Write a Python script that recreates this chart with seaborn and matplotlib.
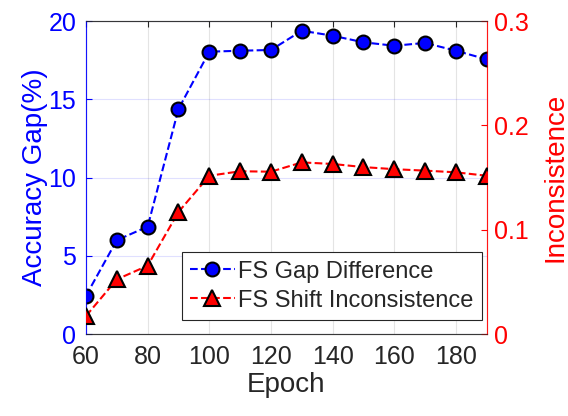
import matplotlib
matplotlib.use("Agg")
import matplotlib.pyplot as plt
import seaborn as sns
import pandas as pd

epochs = [60, 70, 80, 90, 100, 110, 120, 130, 140, 150, 160, 170, 180, 190]
gap_diff = [2.45, 6.0, 6.86, 14.38, 18.04, 18.1, 18.15, 19.38, 19.06, 18.64, 18.42, 18.6, 18.1, 17.55]
shift_incons = [0.0173, 0.0524, 0.0655, 0.117, 0.1517, 0.156, 0.1556, 0.1645, 0.163, 0.160, 0.158, 0.1566, 0.155, 0.1517]
x_ticks = [60, 80, 100, 120, 140, 160, 180]
left_ticks = [0, 5, 10, 15, 20]
right_ticks = [0, 0.1, 0.2, 0.3]
right_ticklabels = ["0", "0.1", "0.2", "0.3"]

sns.set_style("white")
plt.rcParams['font.family'] = ['Liberation Sans', 'DejaVu Sans']

df = pd.DataFrame({"Epoch": epochs, "gap": gap_diff, "inc": shift_incons})

fig = plt.figure(figsize=(5.68, 4.16), dpi=100)
ax = fig.add_axes([0.1514, 0.197, 0.7056, 0.7525])
ax2 = ax.twinx()

sns.lineplot(data=df, x="Epoch", y="gap", ax=ax, color=(0, 0, 1), linestyle="--",
             linewidth=1.5, marker="o", markersize=10, markerfacecolor=(0, 0, 1),
             markeredgecolor="black", markeredgewidth=1.5, label="FS Gap Difference",
             legend=False, zorder=3)
sns.lineplot(data=df, x="Epoch", y="inc", ax=ax2, color=(1, 0, 0), linestyle="--",
             linewidth=1.5, marker="^", markersize=11, markerfacecolor=(1, 0, 0),
             markeredgecolor="black", markeredgewidth=1.5, label="FS Shift Inconsistence",
             legend=False, zorder=3)

ax.set_xlim(60, 190)
ax.set_ylim(0, 20)
ax2.set_ylim(0, 0.3)
ax.set_xticks(x_ticks)
ax.set_yticks(left_ticks)
ax2.set_yticks(right_ticks)
ax2.set_yticklabels(right_ticklabels)

ax.xaxis.grid(True, color=(0.15, 0.15, 0.15), alpha=0.12, linewidth=0.8)
ax.yaxis.grid(True, color=(0, 0, 1), alpha=0.12, linewidth=0.8)
ax.set_axisbelow(True)

ax.tick_params(axis='x', colors=(0.15, 0.15, 0.15), labelsize=18, direction='in', length=4, top=True, pad=8)
ax.tick_params(axis='y', colors=(0, 0, 1), labelsize=18, direction='in', length=4, pad=7)
ax2.tick_params(axis='y', colors=(1, 0, 0), labelsize=18, direction='in', length=4, pad=5)

ax.set_xlabel("Epoch", fontsize=20, color=(0.15, 0.15, 0.15), labelpad=2)
ax.set_ylabel("Accuracy Gap(%)", fontsize=20, color=(0, 0, 1), labelpad=0)
ax2.set_ylabel("Inconsistence", fontsize=20, color=(1, 0, 0), labelpad=10)

for a in (ax, ax2):
    a.spines['top'].set_color((0.15, 0.15, 0.15))
    a.spines['bottom'].set_color((0.15, 0.15, 0.15))
    a.spines['left'].set_color((0, 0, 1))
    a.spines['right'].set_color((1, 0, 0))
    for s in a.spines.values():
        s.set_linewidth(0.8)
        s.set_alpha(0.7)

handles = ax.get_lines()[:1] + ax2.get_lines()[:1]
leg = ax2.legend(handles, ["FS Gap Difference", "FS Shift Inconsistence"],
                 loc="lower right", bbox_to_anchor=(0.988, 0.045), fontsize=17,
                 frameon=True, fancybox=False, framealpha=1, edgecolor=(0.15, 0.15, 0.15),
                 handlelength=1.9, handletextpad=0.15, borderpad=0.35, labelspacing=0.3,
                 borderaxespad=0)
leg.get_frame().set_linewidth(0.8)
for t in leg.get_texts():
    t.set_color((0.15, 0.15, 0.15))

fig.savefig("out.png", dpi=100)
